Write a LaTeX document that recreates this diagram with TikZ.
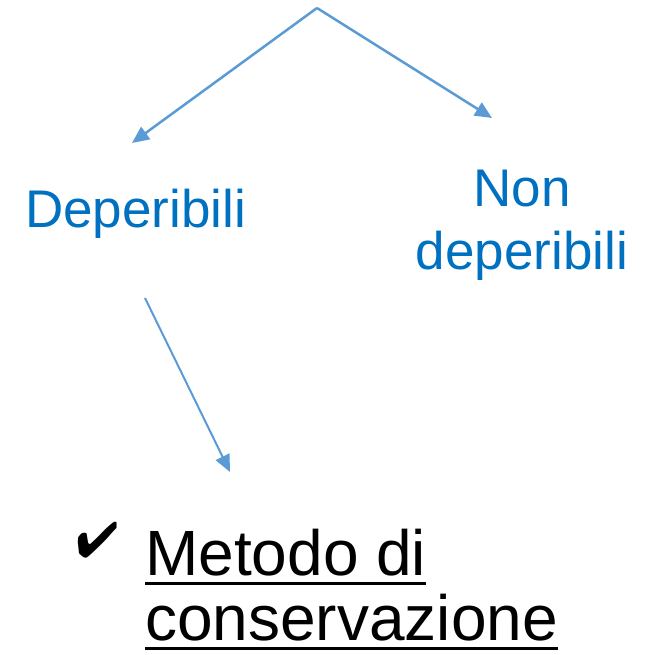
\documentclass[tikz,border=0pt]{standalone}
\usepackage{fontspec}
\setmainfont{Liberation Sans}
\usepackage{pifont}
\usetikzlibrary{arrows.meta, positioning}
\definecolor{linkblue}{HTML}{5B9BD5}
\definecolor{textblue}{HTML}{0070C0}
\newcommand{\ulmark}[1]{\setbox0\hbox{#1}\rlap{\rule[-10pt]{\wd0}{3pt}}\box0}
\tikzset{
    category/.style={text=textblue, font=\fontsize{53}{63}\selectfont, inner sep=0pt, align=center},
    method/.style={text=black, font=\fontsize{64}{65}\selectfont, inner sep=0pt, align=left},
    tick/.style={text=black, font=\fontsize{50}{50}\selectfont, inner sep=0pt},
    link/.style={draw=linkblue, line width=2.5pt}
}

\begin{document}
\begin{tikzpicture}[
        x=1pt, y=-1pt,
        -{Triangle[length=17pt, width=15pt]}
    ]
        \useasboundingbox (0,0) rectangle (657,655);
        \node[tick, anchor=base west] (check) at (76,558) {\ding{52}};
        \node[category, anchor=base west] (dep) at (25,228) {Deperibili};
        \node[category, anchor=base] (nondep) at (522,270) {Non\\deperibili};
        \node[method, anchor=base west] (metodo) at (145,640) {\ulmark{Metodo di}\\\ulmark{conservazione}};

        \coordinate (root) at (317,8);
        \coordinate (deptip) at (132,143);
        \coordinate (nondeptip) at (492,118);
        \coordinate (depfoot) at (145,298);
        \coordinate (metodotip) at (230,472);

        \draw[link] (root) -- (deptip);
        \draw[link] (root) -- (nondeptip);
        \draw[link, line width=2pt] (depfoot) -- (metodotip);
    \end{tikzpicture}
\end{document}
